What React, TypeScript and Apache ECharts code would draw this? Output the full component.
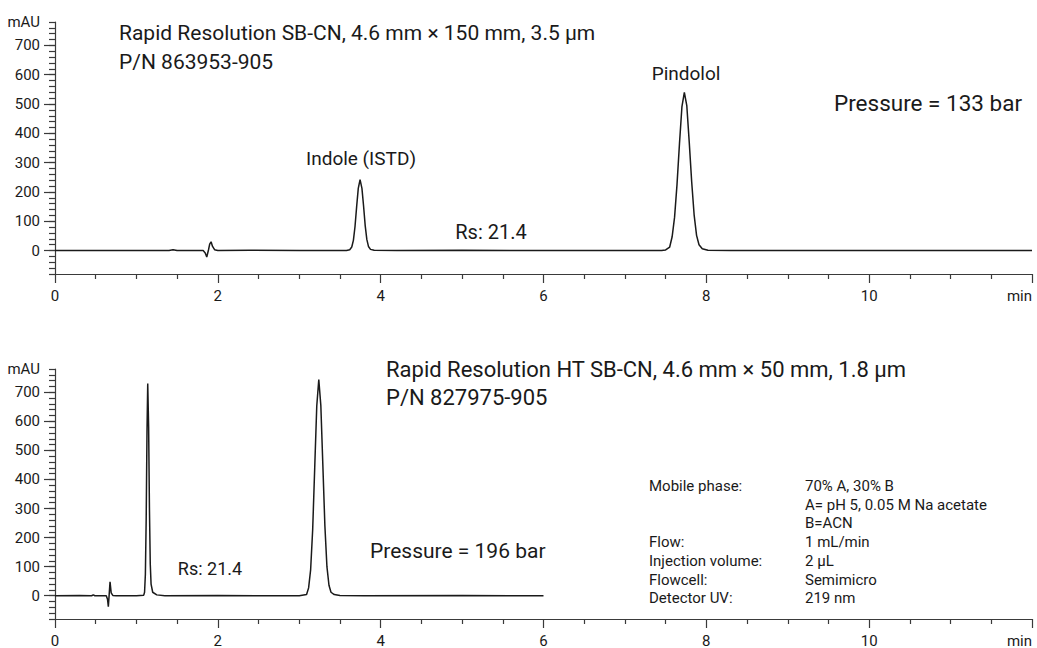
import React, { useEffect, useRef } from "react";
import * as echarts from "echarts";

const FONT = "Roboto, 'Liberation Sans', Arial, sans-serif";
const INK = "#1a1a1a";
const AXIS = "#3a3a3a";

// x axis (minutes)
const xMin = 0;
const xMax = 12;
const xMajor = 2;
const xLabelMax = "min";
// y axis (mAU)
const yMin = -80;
const yMax = 780;
const yMinorStep = 20;
const yMajorValues = [0, 100, 200, 300, 400, 500, 600, 700];
const yUnit = "mAU";

// Top chromatogram: Rapid Resolution SB-CN 150 mm
const topTrace: [number, number][] = [
  [0, 0], [0.6, 0.5], [1.4, 0], [1.45, 3], [1.5, 0], [1.82, 0], [1.845, -8], [1.864, -22],
  [1.885, 2], [1.9, 22], [1.917, 30], [1.935, 14], [1.96, 3], [2.0, 0], [2.4, 1], [3.0, 0],
  [3.58, 0], [3.62, 3], [3.645, 12], [3.665, 35], [3.685, 82], [3.705, 150], [3.725, 212],
  [3.747, 242], [3.77, 212], [3.79, 152], [3.81, 85], [3.83, 38], [3.85, 14], [3.875, 4],
  [3.92, 1], [4.2, 0], [5.0, 1], [6.0, 0], [7.45, 0], [7.5, 2], [7.55, 12], [7.58, 47],
  [7.61, 114], [7.64, 226], [7.67, 364], [7.7, 490], [7.73, 540], [7.76, 495], [7.79, 370],
  [7.82, 235], [7.85, 122], [7.88, 52], [7.91, 20], [7.95, 6], [8.02, 1], [8.3, 0],
  [10.0, 0.5], [12, 0],
];

// Bottom chromatogram: Rapid Resolution HT SB-CN 50 mm
const bottomTrace: [number, number][] = [
  [0, 0], [0.3, 0.5], [0.45, 0], [0.47, 3], [0.49, 0], [0.63, 0], [0.645, -12], [0.655, -38],
  [0.665, 2], [0.676, 48], [0.69, 10], [0.71, 1], [0.75, 0], [1.0, 0], [1.09, 2], [1.1, 12],
  [1.11, 73], [1.12, 263], [1.13, 566], [1.139, 730], [1.15, 580], [1.16, 300], [1.17, 110],
  [1.18, 40], [1.2, 12], [1.25, 3], [1.35, 0], [2.0, 0.5], [3.0, 0], [3.09, 4], [3.115, 27],
  [3.14, 90], [3.165, 228], [3.19, 440], [3.215, 652], [3.24, 744], [3.265, 655],
  [3.29, 448], [3.315, 240], [3.34, 100], [3.365, 36], [3.39, 12], [3.43, 4], [3.5, 1],
  [3.8, 0], [5.0, 0.5], [6.0, 0],
];

const topTitle = ["Rapid Resolution SB-CN, 4.6 mm \u00d7 150 mm, 3.5 \u00b5m", "P/N 863953-905"];
const bottomTitle = ["Rapid Resolution HT SB-CN, 4.6 mm \u00d7 50 mm, 1.8 \u00b5m", "P/N 827975-905"];
const topPeakNames = ["Indole (ISTD)", "Pindolol"];
const resolutionText = "Rs: 21.4";
const topPressure = "Pressure = 133 bar";
const bottomPressure = "Pressure = 196 bar";
const conditionLabels = ["Mobile phase:", "", "", "Flow:", "Injection volume:", "Flowcell:", "Detector UV:"];
const conditionValues = [
  "70% A, 30% B",
  "A= pH 5, 0.05 M Na acetate",
  "B=ACN",
  "1 mL/min",
  "2 \u00b5L",
  "Semimicro",
  "219 nm",
];

function xAxes(gridIndex: number) {
  return {
    type: "value",
    gridIndex,
    position: "bottom",
    min: xMin,
    max: xMax,
    interval: xMajor,
    axisLine: { show: true, onZero: false, lineStyle: { color: AXIS, width: 1.2 } },
    axisTick: { show: true, length: 9, lineStyle: { color: AXIS, width: 1.2 } },
    minorTick: { show: true, splitNumber: 4, length: 5, lineStyle: { color: AXIS, width: 1.2 } },
    splitLine: { show: false },
    minorSplitLine: { show: false },
    axisLabel: {
      margin: 14,
      color: INK,
      fontFamily: FONT,
      fontSize: 15,
      alignMaxLabel: "right",
      formatter: (v: number) => (v === xMax ? xLabelMax : String(v)),
    },
  };
}

function yAxes(gridIndex: number) {
  return [
    {
      type: "value",
      gridIndex,
      position: "left",
      min: yMin,
      max: yMax,
      interval: yMinorStep,
      axisLine: { show: true, onZero: false, lineStyle: { color: AXIS, width: 1.2 } },
      axisTick: { show: true, length: 6, lineStyle: { color: AXIS, width: 1.2 } },
      splitLine: { show: false },
      axisLabel: {
        margin: 15,
        color: INK,
        fontFamily: FONT,
        fontSize: 15,
        formatter: (v: number) =>
          v === yMax ? yUnit : yMajorValues.indexOf(v) >= 0 ? String(v) : "",
      },
    },
    {
      type: "value",
      gridIndex,
      position: "left",
      min: yMin,
      max: yMax,
      axisLine: { show: false, onZero: false },
      axisTick: { show: true, length: 11, customValues: yMajorValues, lineStyle: { color: AXIS, width: 1.2 } },
      splitLine: { show: false },
      axisLabel: { show: false },
    },
  ];
}

function txt(text: string, x: number, y: number, size: number, align = "left") {
  return {
    type: "text",
    x,
    y,
    z: 100,
    silent: true,
    style: {
      text,
      fill: INK,
      font: `${size}px ${FONT}`,
      align,
      verticalAlign: "middle",
    },
  };
}

export default function App() {
  const ref = useRef<HTMLDivElement>(null);
  useEffect(() => {
    if (!ref.current) return;
    const chart = echarts.init(ref.current, undefined, { renderer: "svg" });
    const graphics: any[] = [
      txt(topTitle[0], 119, 33, 21),
      txt(topTitle[1], 119, 62, 21),
      txt(topPeakNames[1], 686, 73, 19, "center"),
      txt(topPeakNames[0], 361, 158, 19, "center"),
      txt(resolutionText, 491, 232, 20, "center"),
      txt(topPressure, 834, 103, 22.5),
      txt(bottomTitle[0], 386, 369, 22),
      txt(bottomTitle[1], 386, 397, 22),
      txt(bottomPressure, 370, 551, 21),
      txt(resolutionText, 210, 568, 18, "center"),
    ];
    conditionLabels.forEach((l, i) => {
      if (l) graphics.push(txt(l, 649, 486 + i * 18.7, 15));
      graphics.push(txt(conditionValues[i], 805, 486 + i * 18.7, 15));
    });
    chart.setOption({
      animation: false,
      backgroundColor: "#ffffff",
      grid: [
        { left: 55, right: 5, top: 22, height: 252 },
        { left: 55, right: 5, top: 369, height: 252 },
      ],
      xAxis: [xAxes(0), xAxes(1)],
      yAxis: [...yAxes(0), ...yAxes(1)],
      series: [
        {
          type: "line",
          xAxisIndex: 0,
          yAxisIndex: 0,
          data: topTrace,
          showSymbol: false,
          lineStyle: { color: INK, width: 1.5 },
          silent: true,
        },
        {
          type: "line",
          xAxisIndex: 1,
          yAxisIndex: 2,
          data: bottomTrace,
          showSymbol: false,
          lineStyle: { color: INK, width: 1.5 },
          silent: true,
        },
      ],
      graphic: graphics,
    });
    return () => chart.dispose();
  }, []);
  return (
    <div
      ref={ref}
      style={{ position: "fixed", left: 0, top: 0, width: 1037, height: 648, background: "#fff" }}
    />
  );
}
